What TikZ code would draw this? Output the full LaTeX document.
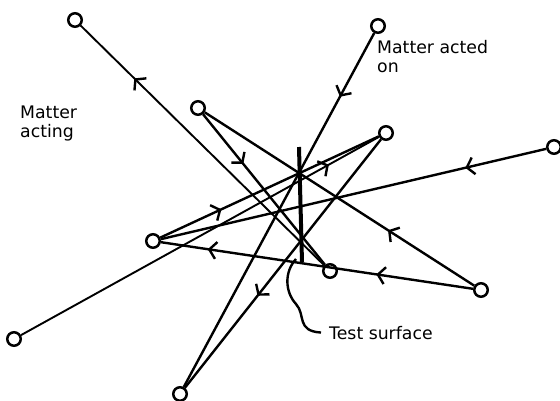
\documentclass[tikz,border=0pt]{standalone}
\usepackage{fontspec}
\setmainfont{DejaVu Sans}
\usetikzlibrary{decorations.markings,arrows.meta}
\begin{document}
\begin{tikzpicture}[x=1pt,y=-1pt,
  pt/.style={circle,draw,line width=2.5pt,minimum size=13.5pt,inner sep=0pt},
  ray/.style={line width=2.4pt},
  thinray/.style={line width=1.9pt},
  barb/.style={line width=2.4pt},
  flow/.style={postaction={decorate},decoration={markings,mark=at position #1 with {\arrow[barb]{Straight Barb[length=7pt,width=17pt]}}}},
  flowtwo/.style 2 args={postaction={decorate},decoration={markings,
     mark=at position #1 with {\arrow[barb]{Straight Barb[length=7pt,width=17pt]}},
     mark=at position #2 with {\arrow[barb]{Straight Barb[length=7pt,width=17pt]}}}},
  lbl/.style={font=\fontsize{17.3}{19}\selectfont,align=left,inner sep=0pt}
]
\useasboundingbox (0,0) rectangle (560,400);
% particles
\node[pt] (A) at (75,20) {};
\node[pt] (B) at (378,26) {};
\node[pt] (C) at (198,108) {};
\node[pt] (D) at (386,133) {};
\node[pt] (E) at (554,147) {};
\node[pt] (F) at (153,241) {};
\node[pt] (G) at (330,271) {};
\node[pt] (H) at (481,290) {};
\node[pt] (I) at (14,339) {};
\node[pt] (J) at (180,394) {};
% rays
\draw[thinray,flow=0.78] (G) -- (A);
\draw[ray,flow=0.18] (B) -- (J);
\draw[ray,flow=0.33] (C) -- (G);
\draw[ray,flow=0.32] (H) -- (C);
\draw[ray,flow=0.63] (D) -- (J);
\draw[ray,flow=0.28] (F) -- (D);
\draw[thinray,flow=0.86] (I) -- (D);
\draw[ray,flow=0.21] (E) -- (F);
\draw[ray,flowtwo={0.31}{0.85}] (H) -- (F);
% test surface
\coordinate (ts1) at (299,147);
\coordinate (ts2) at (302,262);
\draw[line width=4pt] (ts1) -- (ts2);
% labels
\node[lbl,anchor=north west] (acting) at (20,106) {Matter\\acting};
\node[lbl,anchor=north west] (actedon) at (377,40) {Matter acted\\on};
\node[lbl,anchor=base west] (ts) at (329,339) {Test surface};
\coordinate (lead0) at (296,259);
\draw[line width=2.4pt] (lead0) .. controls (284,272) and (285,292) .. (296,304)
  .. controls (306,315) and (296,331) .. ([xshift=-8pt]ts.west);
\end{tikzpicture}
\end{document}
